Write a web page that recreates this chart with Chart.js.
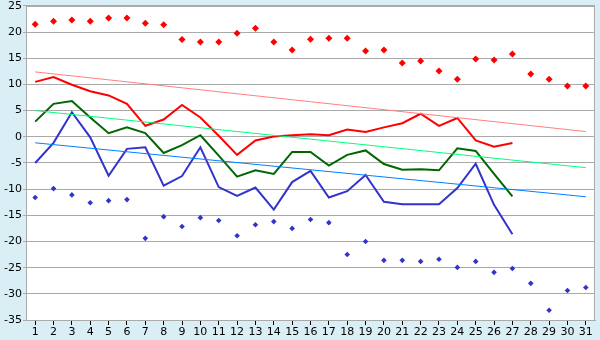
<!DOCTYPE html>
<html>
<head>
<meta charset="utf-8">
<script src="https://cdn.jsdelivr.net/npm/chart.js@4/dist/chart.umd.min.js"></script>
<style>
html,body{margin:0;padding:0;background:#d9eff5;}
#wrap{width:600px;height:340px;}
</style>
</head>
<body>
<div id="wrap"><canvas id="c" width="600" height="340"></canvas></div>
<script>
const days = ['1','2','3','4','5','6','7','8','9','10','11','12','13','14','15','16','17','18','19','20','21','22','23','24','25','26','27','28','29','30','31'];
const yTicks = [25,20,15,10,5,0,-5,-10,-15,-20,-25,-30,-35];

const recordMax = [21.5,22.1,22.3,22.1,22.7,22.7,21.7,21.4,18.6,18.1,18.1,19.8,20.75,18.1,16.6,18.65,18.85,18.85,16.4,16.6,14.1,14.5,12.55,11.0,14.85,14.65,15.8,12.0,11.0,9.7,9.7];
const recordMin = [-11.6,-9.9,-11.1,-12.6,-12.2,-12.0,-19.4,-15.25,-17.15,-15.45,-16.0,-18.9,-16.8,-16.2,-17.5,-15.8,-16.4,-22.5,-20.0,-23.6,-23.6,-23.8,-23.4,-24.95,-23.8,-25.9,-25.15,-28.0,-33.15,-29.35,-28.8];
const dayMax = [10.5,11.4,9.95,8.7,7.9,6.3,2.1,3.3,6.1,3.7,0.2,-3.45,-0.7,0.05,0.3,0.5,0.3,1.4,0.9,1.8,2.6,4.4,2.1,3.6,-0.7,-1.9,-1.2];
const dayMean = [2.9,6.3,6.85,3.7,0.7,1.8,0.7,-3.1,-1.6,0.3,-3.6,-7.6,-6.4,-7.1,-2.9,-2.9,-5.5,-3.45,-2.6,-5.2,-6.3,-6.2,-6.4,-2.2,-2.7,-7.1,-11.4];
const dayMin = [-5.0,-1.15,4.7,-0.1,-7.45,-2.3,-2.0,-9.35,-7.5,-2.0,-9.6,-11.3,-9.7,-13.9,-8.65,-6.5,-11.6,-10.4,-7.3,-12.4,-12.9,-12.9,-12.9,-9.8,-5.15,-13.0,-18.6];
const normMaxEnds = [12.4, 1.0];
const normMeanEnds = [5.0, -5.9];
const normMinEnds = [-1.15, -11.45];

function ends(v){ return [{x: days[0], y: v[0]}, {x: days[days.length-1], y: v[1]}]; }

const frame = {
  id: 'frame',
  beforeDraw(chart){
    const {ctx, chartArea:a} = chart;
    ctx.save();
    ctx.fillStyle = '#d9eff5';
    ctx.fillRect(0,0,chart.width,chart.height);
    ctx.fillStyle = '#ffffff';
    ctx.fillRect(a.left,a.top,a.right-a.left,a.bottom-a.top);
    ctx.restore();
  },
  afterDraw(chart){
    const {ctx, chartArea:a} = chart;
    ctx.save();
    ctx.strokeStyle = '#aaaaaa';
    ctx.lineWidth = 1;
    ctx.strokeRect(Math.round(a.left)+0.5, Math.round(a.top)+0.5, Math.round(a.right-a.left)-1, Math.round(a.bottom-a.top));
    ctx.restore();
  }
};

const lineBase = {type:'line', pointRadius:0, tension:0, fill:false, borderJoinStyle:'miter'};

new Chart(document.getElementById('c'), {
  data: {
    labels: days,
    datasets: [
      Object.assign({}, lineBase, {data: ends(normMaxEnds), borderColor:'#ff8080', borderWidth:1}),
      Object.assign({}, lineBase, {data: ends(normMeanEnds), borderColor:'#00ff80', borderWidth:1}),
      Object.assign({}, lineBase, {data: ends(normMinEnds), borderColor:'#0080ff', borderWidth:1}),
      Object.assign({}, lineBase, {data: dayMax, borderColor:'#ff0000', borderWidth:2}),
      Object.assign({}, lineBase, {data: dayMean, borderColor:'#006600', borderWidth:2}),
      Object.assign({}, lineBase, {data: dayMin, borderColor:'#3333cc', borderWidth:2}),
      {type:'line', data: recordMax, showLine:false, pointStyle:'rectRot', pointRadius:3.5, backgroundColor:'#ff0000', borderColor:'#ff0000', borderWidth:0},
      {type:'line', data: recordMin, showLine:false, pointStyle:'rectRot', pointRadius:2.8, backgroundColor:'#3333cc', borderColor:'#3333cc', borderWidth:0}
    ]
  },
  options: {
    responsive:false,
    animation:false,
    devicePixelRatio:1,
    layout:{padding:{top:5, right:5, left:0, bottom:0}},
    plugins:{legend:{display:false}, tooltip:{enabled:false}},
    scales:{
      x:{
        type:'category',
        offset:true,
        grid:{offset:false, drawOnChartArea:false, drawTicks:true, tickLength:5, color:'#000000'},
        border:{color:'#aaaaaa'},
        ticks:{color:'#000000', font:{family:'DejaVu Sans', size:11}, padding:1, autoSkip:false, maxRotation:0},
        afterFit(s){ s.height = 20; }
      },
      y:{
        min:-35, max:25,
        afterBuildTicks(s){ s.ticks = yTicks.map(v=>({value:v})); },
        grid:{color:'#aaaaaa', drawTicks:true, tickLength:3},
        border:{color:'#aaaaaa'},
        ticks:{color:'#000000', font:{family:'DejaVu Sans', size:11, lineHeight:0.9}, padding:1},
        afterFit(s){ s.width = 26; }
      }
    }
  },
  plugins:[frame]
});
</script>
</body>
</html>
